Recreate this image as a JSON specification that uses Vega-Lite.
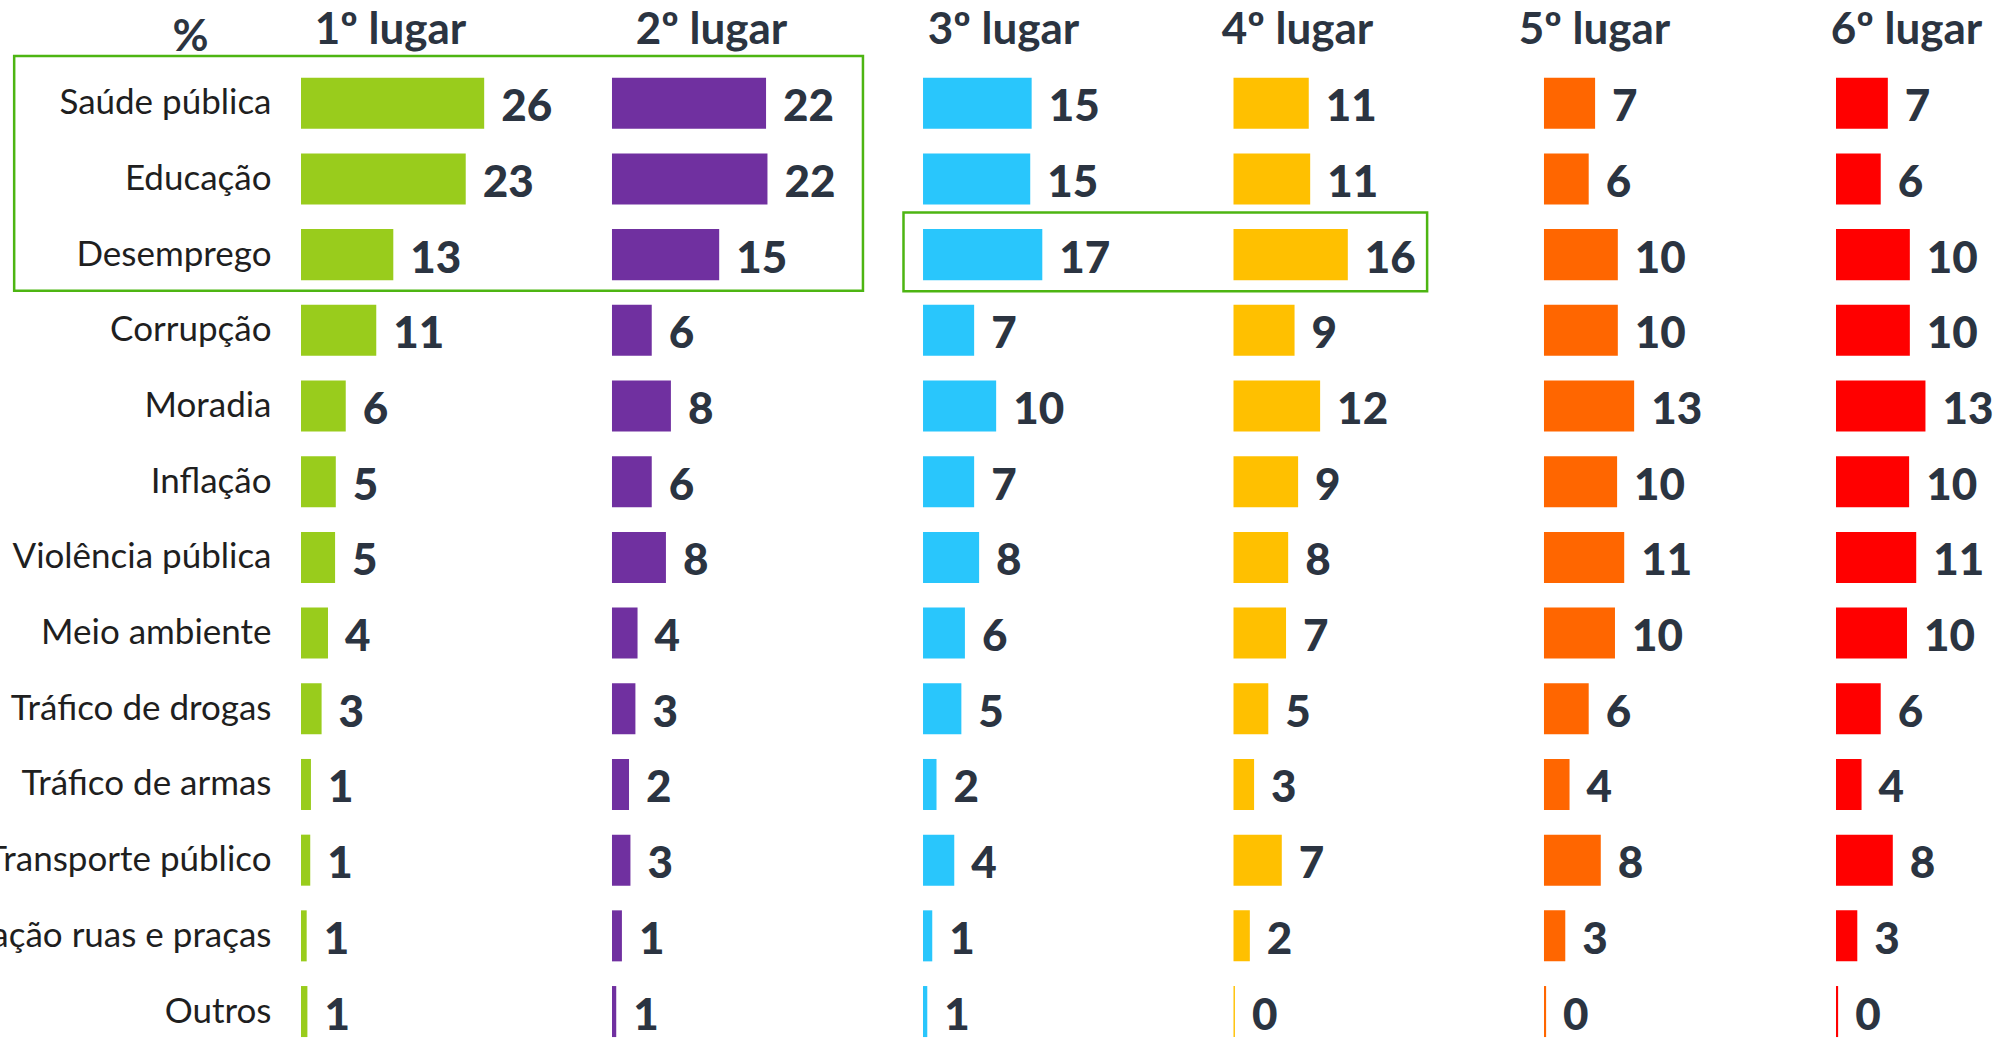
{
  "$schema": "https://vega.github.io/schema/vega-lite/v6.json",
  "autosize": "none",
  "width": 1713,
  "height": 984,
  "padding": {"left": 301, "top": 65.4, "right": 0, "bottom": 0},
  "background": "white",
  "config": {
    "view": {"stroke": null},
    "font": "Lato",
    "axisX": {"labels": false, "ticks": false, "domain": false, "grid": false, "titleY": -22, "titleAlign": "center", "titleBaseline": "alphabetic", "titleFont": "Lato", "titleFontSize": 44, "titleFontWeight": "bold", "titleColor": "#2b3441"},
    "axisY": {"titleAngle": 0, "titleAlign": "center", "titleBaseline": "alphabetic", "titleX": -111, "titleY": -15, "titleFont": "Lato", "titleFontSize": 44, "titleFontWeight": "bold", "titleColor": "#2b3441", "domain": false, "ticks": false, "tickSize": 0, "grid": false, "labelPadding": 30, "labelFont": "Lato", "labelFontSize": 35, "labelColor": "#1f1f1f", "labelLimit": 1000},
    "text": {"align": "left", "baseline": "middle", "dx": 17, "dy": 5, "fontSize": 44, "fontWeight": 900, "color": "#2b3441"}
  },
  "datasets": {
    "d": [
      {"tema": "Saúde pública", "lugar": "1º lugar", "pct": 25.8},
      {"tema": "Educação", "lugar": "1º lugar", "pct": 23.2},
      {"tema": "Desemprego", "lugar": "1º lugar", "pct": 13.0},
      {"tema": "Corrupção", "lugar": "1º lugar", "pct": 10.6},
      {"tema": "Moradia", "lugar": "1º lugar", "pct": 6.3},
      {"tema": "Inflação", "lugar": "1º lugar", "pct": 4.9},
      {"tema": "Violência pública", "lugar": "1º lugar", "pct": 4.8},
      {"tema": "Meio ambiente", "lugar": "1º lugar", "pct": 3.8},
      {"tema": "Tráfico de drogas", "lugar": "1º lugar", "pct": 2.9},
      {"tema": "Tráfico de armas", "lugar": "1º lugar", "pct": 1.4},
      {"tema": "Transporte público", "lugar": "1º lugar", "pct": 1.3},
      {"tema": "Conservação ruas e praças", "lugar": "1º lugar", "pct": 0.8},
      {"tema": "Outros", "lugar": "1º lugar", "pct": 0.9},
      {"tema": "Saúde pública", "lugar": "2º lugar", "pct": 21.7},
      {"tema": "Educação", "lugar": "2º lugar", "pct": 21.9},
      {"tema": "Desemprego", "lugar": "2º lugar", "pct": 15.1},
      {"tema": "Corrupção", "lugar": "2º lugar", "pct": 5.6},
      {"tema": "Moradia", "lugar": "2º lugar", "pct": 8.3},
      {"tema": "Inflação", "lugar": "2º lugar", "pct": 5.6},
      {"tema": "Violência pública", "lugar": "2º lugar", "pct": 7.6},
      {"tema": "Meio ambiente", "lugar": "2º lugar", "pct": 3.6},
      {"tema": "Tráfico de drogas", "lugar": "2º lugar", "pct": 3.3},
      {"tema": "Tráfico de armas", "lugar": "2º lugar", "pct": 2.4},
      {"tema": "Transporte público", "lugar": "2º lugar", "pct": 2.6},
      {"tema": "Conservação ruas e praças", "lugar": "2º lugar", "pct": 1.4},
      {"tema": "Outros", "lugar": "2º lugar", "pct": 0.6},
      {"tema": "Saúde pública", "lugar": "3º lugar", "pct": 15.3},
      {"tema": "Educação", "lugar": "3º lugar", "pct": 15.1},
      {"tema": "Desemprego", "lugar": "3º lugar", "pct": 16.8},
      {"tema": "Corrupção", "lugar": "3º lugar", "pct": 7.2},
      {"tema": "Moradia", "lugar": "3º lugar", "pct": 10.3},
      {"tema": "Inflação", "lugar": "3º lugar", "pct": 7.2},
      {"tema": "Violência pública", "lugar": "3º lugar", "pct": 7.9},
      {"tema": "Meio ambiente", "lugar": "3º lugar", "pct": 5.9},
      {"tema": "Tráfico de drogas", "lugar": "3º lugar", "pct": 5.4},
      {"tema": "Tráfico de armas", "lugar": "3º lugar", "pct": 1.9},
      {"tema": "Transporte público", "lugar": "3º lugar", "pct": 4.4},
      {"tema": "Conservação ruas e praças", "lugar": "3º lugar", "pct": 1.3},
      {"tema": "Outros", "lugar": "3º lugar", "pct": 0.6},
      {"tema": "Saúde pública", "lugar": "4º lugar", "pct": 10.6},
      {"tema": "Educação", "lugar": "4º lugar", "pct": 10.8},
      {"tema": "Desemprego", "lugar": "4º lugar", "pct": 16.1},
      {"tema": "Corrupção", "lugar": "4º lugar", "pct": 8.6},
      {"tema": "Moradia", "lugar": "4º lugar", "pct": 12.2},
      {"tema": "Inflação", "lugar": "4º lugar", "pct": 9.1},
      {"tema": "Violência pública", "lugar": "4º lugar", "pct": 7.7},
      {"tema": "Meio ambiente", "lugar": "4º lugar", "pct": 7.4},
      {"tema": "Tráfico de drogas", "lugar": "4º lugar", "pct": 4.9},
      {"tema": "Tráfico de armas", "lugar": "4º lugar", "pct": 2.9},
      {"tema": "Transporte público", "lugar": "4º lugar", "pct": 6.8},
      {"tema": "Conservação ruas e praças", "lugar": "4º lugar", "pct": 2.3},
      {"tema": "Outros", "lugar": "4º lugar", "pct": 0.2},
      {"tema": "Saúde pública", "lugar": "5º lugar", "pct": 7.2},
      {"tema": "Educação", "lugar": "5º lugar", "pct": 6.3},
      {"tema": "Desemprego", "lugar": "5º lugar", "pct": 10.4},
      {"tema": "Corrupção", "lugar": "5º lugar", "pct": 10.4},
      {"tema": "Moradia", "lugar": "5º lugar", "pct": 12.7},
      {"tema": "Inflação", "lugar": "5º lugar", "pct": 10.3},
      {"tema": "Violência pública", "lugar": "5º lugar", "pct": 11.3},
      {"tema": "Meio ambiente", "lugar": "5º lugar", "pct": 10.0},
      {"tema": "Tráfico de drogas", "lugar": "5º lugar", "pct": 6.3},
      {"tema": "Tráfico de armas", "lugar": "5º lugar", "pct": 3.6},
      {"tema": "Transporte público", "lugar": "5º lugar", "pct": 8.0},
      {"tema": "Conservação ruas e praças", "lugar": "5º lugar", "pct": 3.0},
      {"tema": "Outros", "lugar": "5º lugar", "pct": 0.3},
      {"tema": "Saúde pública", "lugar": "6º lugar", "pct": 7.3},
      {"tema": "Educação", "lugar": "6º lugar", "pct": 6.3},
      {"tema": "Desemprego", "lugar": "6º lugar", "pct": 10.4},
      {"tema": "Corrupção", "lugar": "6º lugar", "pct": 10.4},
      {"tema": "Moradia", "lugar": "6º lugar", "pct": 12.6},
      {"tema": "Inflação", "lugar": "6º lugar", "pct": 10.3},
      {"tema": "Violência pública", "lugar": "6º lugar", "pct": 11.3},
      {"tema": "Meio ambiente", "lugar": "6º lugar", "pct": 10.0},
      {"tema": "Tráfico de drogas", "lugar": "6º lugar", "pct": 6.3},
      {"tema": "Tráfico de armas", "lugar": "6º lugar", "pct": 3.6},
      {"tema": "Transporte público", "lugar": "6º lugar", "pct": 8.0},
      {"tema": "Conservação ruas e praças", "lugar": "6º lugar", "pct": 3.0},
      {"tema": "Outros", "lugar": "6º lugar", "pct": 0.3}
    ]
  },
  "resolve": {"scale": {"x": "independent"}, "axis": {"x": "independent"}},
  "layer": [
    {
      "layer": [
        {
          "data": {"name": "d"},
          "transform": [{"filter": {"field": "lugar", "equal": "1º lugar"}}],
          "encoding": {
            "x": {"field": "pct", "type": "quantitative", "scale": {"domain": [0, 241.27]}, "axis": {"orient": "top", "title": "1º lugar", "titleX": 89}},
            "y": {"field": "tema", "type": "nominal", "axis": {"title": "%"}, "scale": {"domain": ["Saúde pública", "Educação", "Desemprego", "Corrupção", "Moradia", "Inflação", "Violência pública", "Meio ambiente", "Tráfico de drogas", "Tráfico de armas", "Transporte público", "Conservação ruas e praças", "Outros"], "paddingInner": 0.326, "paddingOuter": 0.163}}
          },
          "layer": [
            {"mark": {"type": "bar", "color": "#99cc1c"}},
            {"mark": {"type": "text"}, "encoding": {"text": {"field": "pct", "type": "quantitative", "format": ".0f"}}}
          ]
        },
        {
          "data": {"values": [{"caixa": "top 3"}]},
          "mark": {"type": "rect", "fill": "white", "fillOpacity": 0, "stroke": "#4db512", "strokeWidth": 2.5, "clip": false, "yOffset": -21.7, "y2Offset": 10.7},
          "encoding": {"x": {"datum": -40.4, "scale": {"domain": [0, 241.27]}}, "x2": {"datum": 79.15}, "y": {"datum": "Saúde pública", "bandPosition": 0}, "y2": {"datum": "Desemprego", "bandPosition": 1}}
        }
      ]
    },
    {
      "data": {"name": "d"},
      "transform": [{"filter": {"field": "lugar", "equal": "2º lugar"}}],
      "encoding": {
        "x": {"field": "pct", "type": "quantitative", "scale": {"domain": [-43.8, 197.47]}, "axis": {"orient": "top", "title": "2º lugar", "titleX": 410}},
        "y": {"field": "tema", "type": "nominal", "axis": {"title": "%"}}
      },
      "layer": [
        {"mark": {"type": "bar", "color": "#7030a0"}},
        {"mark": {"type": "text"}, "encoding": {"text": {"field": "pct", "type": "quantitative", "format": ".0f"}}}
      ]
    },
    {
      "layer": [
        {
          "data": {"name": "d"},
          "transform": [{"filter": {"field": "lugar", "equal": "3º lugar"}}],
          "encoding": {
            "x": {"field": "pct", "type": "quantitative", "scale": {"domain": [-87.61, 153.66]}, "axis": {"orient": "top", "title": "3º lugar", "titleX": 702}},
            "y": {"field": "tema", "type": "nominal", "axis": {"title": "%"}}
          },
          "layer": [
            {"mark": {"type": "bar", "color": "#29c6fc"}},
            {"mark": {"type": "text"}, "encoding": {"text": {"field": "pct", "type": "quantitative", "format": ".0f"}}}
          ]
        },
        {
          "data": {"values": [{"caixa": "desemprego"}]},
          "mark": {"type": "rect", "fill": "white", "fillOpacity": 0, "stroke": "#4db512", "strokeWidth": 2.5, "clip": false, "yOffset": -16.6, "y2Offset": 11},
          "encoding": {"x": {"datum": -2.75, "scale": {"domain": [-87.61, 153.66]}}, "x2": {"datum": 71.0}, "y": {"datum": "Desemprego", "bandPosition": 0}, "y2": {"datum": "Desemprego", "bandPosition": 1}}
        }
      ]
    },
    {
      "data": {"name": "d"},
      "transform": [{"filter": {"field": "lugar", "equal": "4º lugar"}}],
      "encoding": {
        "x": {"field": "pct", "type": "quantitative", "scale": {"domain": [-131.34, 109.93]}, "axis": {"orient": "top", "title": "4º lugar", "titleX": 996}},
        "y": {"field": "tema", "type": "nominal", "axis": {"title": "%"}}
      },
      "layer": [
        {"mark": {"type": "bar", "color": "#ffc000"}},
        {"mark": {"type": "text"}, "encoding": {"text": {"field": "pct", "type": "quantitative", "format": ".0f"}}}
      ]
    },
    {
      "data": {"name": "d"},
      "transform": [{"filter": {"field": "lugar", "equal": "5º lugar"}}],
      "encoding": {
        "x": {"field": "pct", "type": "quantitative", "scale": {"domain": [-175.07, 66.2]}, "axis": {"orient": "top", "title": "5º lugar", "titleX": 1293}},
        "y": {"field": "tema", "type": "nominal", "axis": {"title": "%"}}
      },
      "layer": [
        {"mark": {"type": "bar", "color": "#ff6600"}},
        {"mark": {"type": "text"}, "encoding": {"text": {"field": "pct", "type": "quantitative", "format": ".0f"}}}
      ]
    },
    {
      "data": {"name": "d"},
      "transform": [{"filter": {"field": "lugar", "equal": "6º lugar"}}],
      "encoding": {
        "x": {"field": "pct", "type": "quantitative", "scale": {"domain": [-216.2, 25.07]}, "axis": {"orient": "top", "title": "6º lugar", "titleX": 1605}},
        "y": {"field": "tema", "type": "nominal", "axis": {"title": "%"}}
      },
      "layer": [
        {"mark": {"type": "bar", "color": "#ff0000"}},
        {"mark": {"type": "text"}, "encoding": {"text": {"field": "pct", "type": "quantitative", "format": ".0f"}}}
      ]
    }
  ]
}
